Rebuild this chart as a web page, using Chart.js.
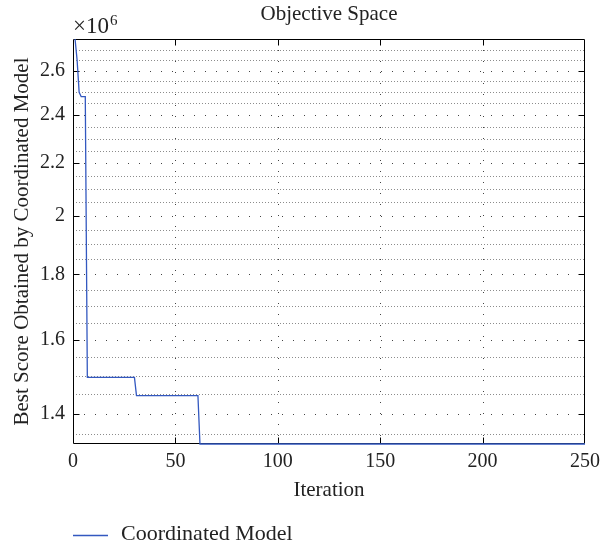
<!DOCTYPE html>
<html>
<head>
<meta charset="utf-8">
<script src="https://cdn.jsdelivr.net/npm/chart.js@4.4.0/dist/chart.umd.min.js"></script>
<style>
  html, body { margin: 0; padding: 0; background: #fff; }
  canvas { display: block; }
</style>
</head>
<body>
<canvas id="chart" width="606" height="545"></canvas>
<script>
// best score per iteration, in units of 10^6 (step changes only)
const iterations = [1, 2, 3, 4, 6, 7, 30, 31, 61, 62, 250];
const bestScore = [2.752, 2.65, 2.50, 2.48, 2.48, 1.495, 1.495, 1.447, 1.447, 1.326, 1.326];

const yMajorTicks = [1.4, 1.6, 1.8, 2, 2.2, 2.4, 2.6];
const yMinorTicks = [1.35, 1.45, 1.5, 1.55, 1.65, 1.7, 1.75, 1.85, 1.9, 1.95,
  2.05, 2.1, 2.15, 2.25, 2.3, 2.35, 2.45, 2.5, 2.55, 2.65, 2.7];
const xTicks = [0, 50, 100, 150, 200, 250];

const serif = 'Liberation Serif';
const textColor = '#222';
const lineColor = '#3358c0';

function seg(ctx, x1, y1, x2, y2) {
  ctx.beginPath();
  ctx.moveTo(x1, y1);
  ctx.lineTo(x2, y2);
  ctx.stroke();
}

// dotted grid + axes box with inward ticks (matlab look), under the line
const gridBox = {
  id: 'gridBox',
  beforeDatasetsDraw(chart) {
    const { ctx, chartArea: a, scales: { x, y } } = chart;
    ctx.save();
    ctx.lineWidth = 1;

    ctx.strokeStyle = '#8c8c8c';
    ctx.setLineDash([1, 2]);
    yMinorTicks.forEach(v => {
      const py = Math.round(y.getPixelForValue(v)) + 0.5;
      seg(ctx, a.left, py, a.right, py);
    });

    ctx.strokeStyle = '#444';
    ctx.setLineDash([1, 10]);
    yMajorTicks.forEach(v => {
      const py = Math.round(y.getPixelForValue(v)) + 0.5;
      seg(ctx, a.left, py, a.right, py);
    });
    xTicks.slice(1, -1).forEach(v => {
      const px = Math.round(x.getPixelForValue(v)) + 0.5;
      seg(ctx, px, a.top, px, a.bottom);
    });

    ctx.setLineDash([]);
    ctx.strokeStyle = '#000000';
    const L = Math.round(a.left) + 0.5, R = Math.round(a.right) - 0.5;
    const T = Math.round(a.top) + 0.5, B = Math.round(a.bottom) - 0.5;
    ctx.beginPath();
    ctx.rect(L, T, R - L, B - T);
    ctx.stroke();

    const tk = 6;
    yMajorTicks.forEach(v => {
      const py = Math.round(y.getPixelForValue(v)) + 0.5;
      seg(ctx, L, py, L + tk, py);
      seg(ctx, R, py, R - tk, py);
    });
    xTicks.slice(1, -1).forEach(v => {
      const px = Math.round(x.getPixelForValue(v)) + 0.5;
      seg(ctx, px, B, px, B - tk);
      seg(ctx, px, T, px, T + tk);
    });
    ctx.restore();
  },
  afterDraw(chart) {
    const { ctx, chartArea: a } = chart;
    const ds = chart.data.datasets[0];
    ctx.save();
    ctx.fillStyle = textColor;
    ctx.textBaseline = 'alphabetic';
    // exponent label
    ctx.font = '23px "' + serif + '"';
    ctx.fillText('\u00d710', a.left, 33);
    const w = ctx.measureText('\u00d710').width;
    ctx.font = '15px "' + serif + '"';
    ctx.fillText('6', a.left + w + 1, 25);

    // legend
    ctx.strokeStyle = ds.borderColor;
    ctx.lineWidth = 1.3;
    seg(ctx, a.left, 535.5, a.left + 35, 535.5);
    ctx.font = '22px "' + serif + '"';
    ctx.fillText(ds.label, a.left + 48, 540);
    ctx.restore();
  }
};

new Chart(document.getElementById('chart'), {
  type: 'line',
  data: {
    datasets: [{
      label: 'Coordinated Model',
      data: iterations.map((it, i) => ({ x: it, y: bestScore[i] })),
      borderColor: lineColor,
      borderWidth: 1.3,
      pointRadius: 0,
      fill: false,
      tension: 0,
      clip: 2
    }]
  },
  options: {
    responsive: false,
    animation: false,
    layout: { padding: { left: 6, right: 19, top: 0, bottom: 34 } },
    plugins: {
      legend: { display: false },
      tooltip: { enabled: false }
    },
    scales: {
      // top axis only carries the title, centred over the plot area
      top: {
        type: 'linear',
        position: 'top',
        grid: { display: false, drawTicks: false },
        border: { display: false },
        ticks: { display: false },
        afterFit: s => { s.height = 39; },
        title: {
          display: true,
          text: 'Objective Space',
          color: textColor,
          font: { family: serif, size: 21 },
          padding: { top: 2, bottom: 0 }
        }
      },
      x: {
        type: 'linear',
        position: 'bottom',
        min: 0,
        max: 250,
        grid: { display: false, drawTicks: false },
        border: { display: false },
        afterBuildTicks: s => { s.ticks = xTicks.map(v => ({ value: v })); },
        afterFit: s => { s.height = 67; },
        ticks: {
          color: textColor,
          padding: 6,
          maxRotation: 0,
          font: { family: serif, size: 20 }
        },
        title: {
          display: true,
          text: 'Iteration',
          color: textColor,
          font: { family: serif, size: 21 },
          padding: { top: 0, bottom: 8 }
        }
      },
      y: {
        type: 'logarithmic',
        bounds: 'data',
        min: 1.326,
        max: 2.752,
        grid: { display: false, drawTicks: false },
        border: { display: false },
        afterBuildTicks: s => { s.ticks = yMajorTicks.map(v => ({ value: v })); },
        afterFit: s => { s.width = 67; },
        ticks: {
          color: textColor,
          padding: 8,
          font: { family: serif, size: 20 },
          callback: v => String(v)
        },
        title: {
          display: true,
          text: 'Best Score Obtained by Coordinated Model',
          color: textColor,
          font: { family: serif, size: 21 },
          padding: { top: 4, bottom: 0 }
        }
      }
    }
  },
  plugins: [gridBox]
});
</script>
</body>
</html>
